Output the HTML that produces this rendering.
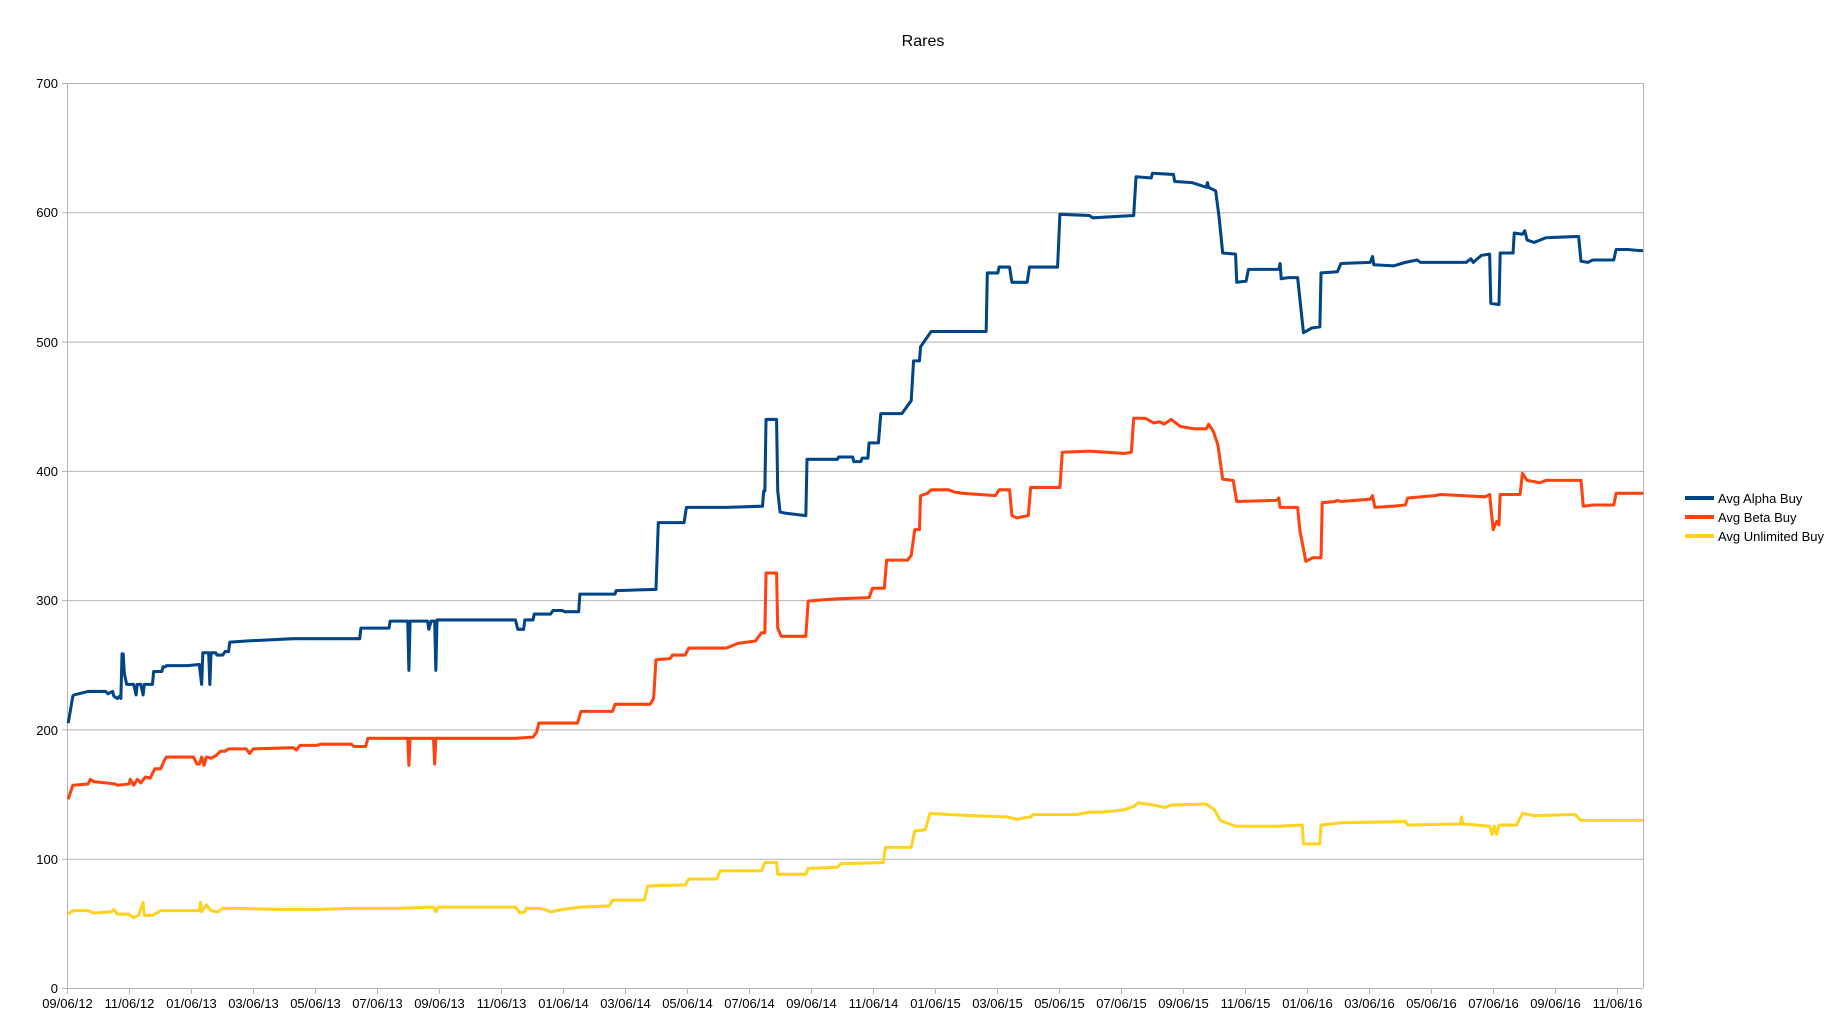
<!DOCTYPE html>
<html><head><meta charset="utf-8"><style>
html,body{margin:0;padding:0;background:#fff;}
svg{display:block;font-family:"Liberation Sans",sans-serif;}
</style></head><body>
<svg width="1837" height="1033" viewBox="0 0 1837 1033" xmlns="http://www.w3.org/2000/svg">
<rect width="1837" height="1033" fill="#fff"/>
<text x="923" y="46" font-size="16" text-anchor="middle" fill="#000">Rares</text>
<g stroke="#b3b3b3" stroke-width="1" fill="none">
<line x1="62" y1="83.5" x2="1643" y2="83.5"/>
<line x1="62" y1="212.8" x2="1643" y2="212.8"/>
<line x1="62" y1="342.1" x2="1643" y2="342.1"/>
<line x1="62" y1="471.4" x2="1643" y2="471.4"/>
<line x1="62" y1="600.6" x2="1643" y2="600.6"/>
<line x1="62" y1="729.9" x2="1643" y2="729.9"/>
<line x1="62" y1="859.2" x2="1643" y2="859.2"/>
<line x1="62" y1="988.5" x2="1643" y2="988.5"/>
<line x1="67.5" y1="83" x2="67.5" y2="994"/>
<line x1="1643.5" y1="83" x2="1643.5" y2="988"/>
</g>
<g stroke="#b3b3b3" stroke-width="1" id="ticks"></g>
<g font-size="13" fill="#000" text-anchor="end">
<text x="58" y="88">700</text><text x="58" y="217">600</text><text x="58" y="347">500</text>
<text x="58" y="476">400</text><text x="58" y="605">300</text><text x="58" y="735">200</text>
<text x="58" y="864">100</text><text x="58" y="993">0</text>
</g>
<g font-size="13" fill="#000" text-anchor="middle" id="xl"></g>
<g fill="none" stroke-width="2.6" stroke-linejoin="round" transform="matrix(1.1709 0 0 1.1723 0.26 -0.23)">
<polyline stroke="#ffd320" points="58,780 62,777 75,777 80,779 95,778 97,776 100,780 110,780 114,783 118,781 122,770 123,781 130,781 137,777 160,777 170,777 171,770 172,778 176,772 180,777 186,778 190,775 200,775 240,776 270,776 300,775 340,775 370,774 372,778 374,774 440,774 444,779 448,778 449,775 460,775 465,776 470,778 480,776 495,774 520,773 523,768 550,768 553,756 585,755 588,750 612,750 615,743 650,743 653,736 663,736 664,746 688,746 690,741 715,740 718,737 754,736 756,723 778,723 781,709 790,708 794,694 810,695 830,696 860,697 868,699 880,697 882,695 920,695 930,693 940,693 960,691 968,688 972,685 985,687 995,689 1000,687 1030,686 1037,691 1042,700 1055,705 1090,705 1112,704 1113,720 1127,720 1128,704 1145,702 1200,701 1202,704 1247,703 1248,697 1249,703 1272,705 1274,712 1276,705 1278,712 1280,704 1295,704 1300,694 1310,696 1345,695 1350,700 1378,700 1403,700"/>
<polyline stroke="#ff420e" points="58,682 62,670 75,669 77,665 80,667 90,668 98,669 100,670 110,669 111,665 114,670 117,665 120,668 124,663 128,664 132,656 137,656 140,649 142,646 165,646 168,652 170,652 172,646 174,653 176,646 180,647 184,645 188,641 192,641 195,639 210,639 213,643 216,639 250,638 253,640 256,636 270,636 274,635 300,635 302,637 312,637 314,630 348,630 349,653 350,630 370,630 371,652 372,630 440,630 455,629 458,625 460,617 493,617 496,607 523,607 525,601 555,601 558,596 560,563 572,562 574,559 585,559 588,553 620,553 630,549 645,547 650,540 653,540 654,489 663,489 664,536 667,543 688,543 690,513 700,512 715,511 742,510 745,502 755,502 757,478 775,478 778,474 781,452 785,452 786,423 792,421 795,418 810,418 815,420 822,421 850,423 853,418 862,418 864,440 868,442 878,440 880,416 905,416 907,386 930,385 960,387 966,386 968,357 978,357 985,361 990,360 994,362 1000,358 1008,364 1020,366 1030,366 1032,362 1036,368 1040,380 1044,409 1053,410 1056,428 1090,427 1092,425 1093,433 1102,433 1108,433 1110,453 1115,479 1121,476 1128,476 1129,429 1140,428 1142,427 1145,428 1170,426 1172,423 1174,433 1190,432 1200,431 1202,425 1225,423 1230,422 1268,424 1272,422 1275,452 1278,445 1280,448 1281,422 1298,422 1300,404 1304,410 1315,412 1320,410 1350,410 1352,432 1360,431 1378,431 1380,421 1403,421"/>
<polyline stroke="#004586" points="58,617 62,594 63,593 75,590 90,590 92,592 96,590 97,594 100,596 102,594 103,596 104,558 105,558 106,575 108,584 114,584 116,593 117,584 120,584 122,593 123,584 130,584 131,573 138,573 139,569 141,569 142,568 160,568 170,567 172,584 173,557 178,557 179,584 180,557 184,557 185,559 190,559 192,556 195,556 196,548 210,547 230,546 250,545 270,545 300,545 307,545 308,536 332,536 333,530 348,530 349,572 350,530 365,530 366,537 368,530 371,530 372,572 373,529 440,529 442,537 447,537 448,529 455,529 456,524 470,524 472,521 480,521 482,522 494,522 495,507 525,507 526,504 558,503 560,503 562,446 584,446 586,433 620,433 651,432 652,419 653,419 654,358 663,358 664,419 666,437 671,438 688,440 689,392 715,392 716,390 728,390 729,394 735,394 736,391 741,391 742,378 750,378 752,353 770,353 778,342 780,308 785,308 786,296 795,283 842,283 843,233 852,233 853,228 862,228 864,241 877,241 879,228 903,228 905,183 930,184 933,186 968,184 970,151 983,152 984,148 1002,149 1003,155 1018,156 1030,160 1031,156 1032,160 1038,163 1041,186 1044,216 1055,217 1056,241 1064,240 1066,230 1092,230 1093,225 1094,238 1100,237 1108,237 1113,284 1120,280 1127,279 1128,233 1142,232 1145,225 1170,224 1172,219 1173,226 1190,227 1200,224 1210,222 1213,224 1252,224 1256,221 1258,224 1265,218 1272,217 1273,259 1280,260 1281,216 1292,216 1293,199 1300,200 1302,197 1304,205 1310,207 1320,203 1345,202 1348,202 1350,223 1356,224 1360,222 1378,222 1380,213 1390,213 1400,214 1403,214"/>
</g>
<g stroke-width="4">
<line x1="1685" y1="498" x2="1714" y2="498" stroke="#004586"/>
<line x1="1685" y1="517" x2="1714" y2="517" stroke="#ff420e"/>
<line x1="1685" y1="536" x2="1714" y2="536" stroke="#ffd320"/>
</g>
<g font-size="13" fill="#000">
<text x="1718" y="503">Avg Alpha Buy</text>
<text x="1718" y="522">Avg Beta Buy</text>
<text x="1718" y="541">Avg Unlimited Buy</text>
</g>
<script>
var labs=["09/06/12","11/06/12","01/06/13","03/06/13","05/06/13","07/06/13","09/06/13","11/06/13","01/06/14","03/06/14","05/06/14","07/06/14","09/06/14","11/06/14","01/06/15","03/06/15","05/06/15","07/06/15","09/06/15","11/06/15","01/06/16","03/06/16","05/06/16","07/06/16","09/06/16","11/06/16"];
var ns="http://www.w3.org/2000/svg",t=document.getElementById("ticks"),xl=document.getElementById("xl");
labs.forEach(function(s,i){var x=67.5+i*62.0;
var l=document.createElementNS(ns,"line");l.setAttribute("x1",x);l.setAttribute("x2",x);l.setAttribute("y1",988);l.setAttribute("y2",994);t.appendChild(l);
var tx=document.createElementNS(ns,"text");tx.setAttribute("x",x);tx.setAttribute("y",1008);tx.textContent=s;xl.appendChild(tx);});
</script>
</svg>
</body></html>
